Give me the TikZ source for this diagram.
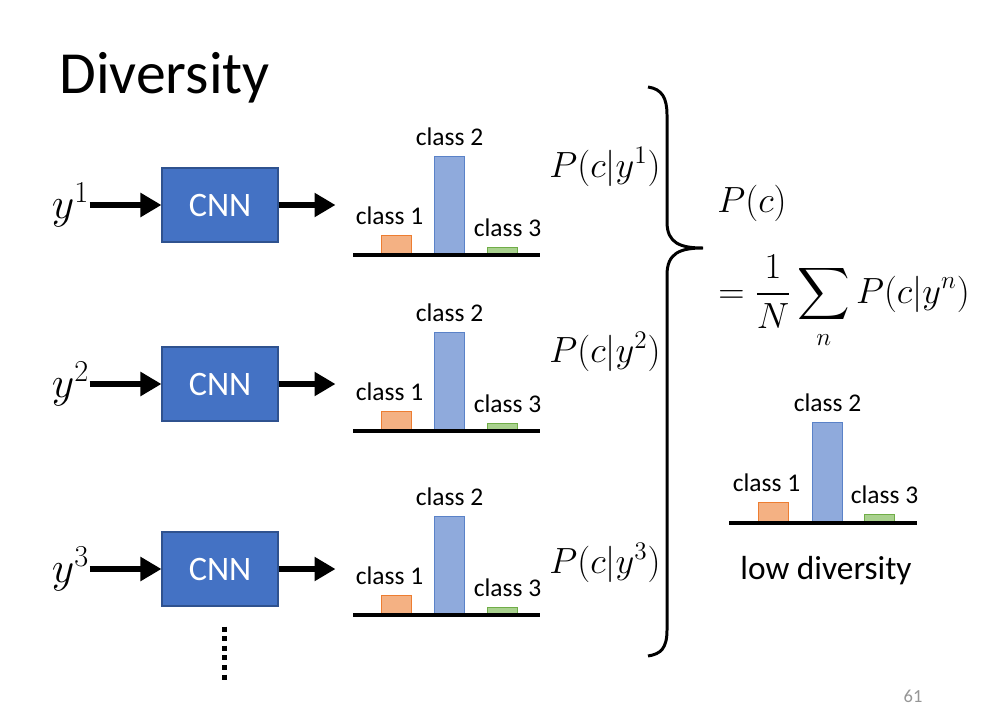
\documentclass[tikz,border=0pt]{standalone}
\usepackage{amsmath}
\usepackage{fontspec}
\setmainfont{Carlito}
\usetikzlibrary{arrows.meta, positioning, calc}
\definecolor{cnnblue}{RGB}{68, 114, 196}
\definecolor{cnnborder}{RGB}{47, 82, 143}
\definecolor{orangefill}{RGB}{244, 177, 131}
\definecolor{orangeedge}{RGB}{237, 125, 49}
\definecolor{bluefill}{RGB}{143, 170, 220}
\definecolor{blueedge}{RGB}{90, 130, 200}
\definecolor{greenfill}{RGB}{169, 209, 142}
\definecolor{greenedge}{RGB}{112, 173, 71}
\definecolor{pagegray}{RGB}{150, 150, 150}

\begin{document}
\begin{tikzpicture}[
    x=0.02cm, y=-0.02cm,
    cnn/.style={draw=cnnborder, fill=cnnblue, line width=0.6pt, minimum width=2.32cm, minimum height=1.48cm, text=white, font=\fontsize{19.5}{23}\selectfont},
    arrow/.style={-{Triangle[length=0.42cm, width=0.46cm]}, line width=3.2pt},
    axis/.style={line width=2.2pt},
    bar/.style={anchor=south west, inner sep=0pt, minimum width=0.6cm, line width=0.6pt},
    bar1/.style={bar, draw=orangeedge, fill=orangefill, minimum height=0.38cm},
    bar2/.style={bar, draw=blueedge, fill=bluefill, minimum height=1.96cm},
    bar3/.style={bar, draw=greenedge, fill=greenfill, minimum height=0.14cm},
    cls/.style={inner sep=0pt, font=\fontsize{14.5}{17}\selectfont},
    mathlabel/.style={inner sep=0pt, font=\fontsize{22}{26}\selectfont},
    inlabel/.style={inner sep=0pt, font=\fontsize{24}{28}\selectfont}
]
    \useasboundingbox (0,0) rectangle (982,716);
    \fill[white] (0,0) rectangle (982,716);

    % Title
    \node[anchor=base west, inner sep=0pt, font=\fontsize{34}{40}\selectfont] (title) at (59,94) {Diversity};

    % Row 1
    \node[cnn] (cnn1) at (220,205) {CNN};
    \node[inlabel, left=1.44cm of cnn1] (y1) {$y^1$};
    \coordinate[right=1.14cm of cnn1] (out1);
    \draw[arrow] (y1) -- (cnn1);
    \draw[arrow] (cnn1) -- (out1);
    \coordinate (base1) at (353,255);
    \node[bar1] (c11) at (381,255) {};
    \node[bar2] (c12) at (434,255) {};
    \node[bar3] (c13) at (487,255) {};
    \draw[axis] (base1) -- ++(187,0);
    \node[cls, above=0.2cm of c11, xshift=-0.14cm] {class 1};
    \node[cls, above=0.2cm of c12] {class 2};
    \node[cls, above=0.2cm of c13, xshift=0.1cm] {class 3};
    \node[mathlabel] (p1) at (605,167) {$P(c|y^1)$};

    % Row 2
    \node[cnn] (cnn2) at (220,384) {CNN};
    \node[inlabel, left=1.44cm of cnn2] (y2) {$y^2$};
    \coordinate[right=1.14cm of cnn2] (out2);
    \draw[arrow] (y2) -- (cnn2);
    \draw[arrow] (cnn2) -- (out2);
    \coordinate (base2) at (353,431);
    \node[bar1] (c21) at (381,431) {};
    \node[bar2] (c22) at (434,431) {};
    \node[bar3] (c23) at (487,431) {};
    \draw[axis] (base2) -- ++(187,0);
    \node[cls, above=0.2cm of c21, xshift=-0.14cm] {class 1};
    \node[cls, above=0.2cm of c22] {class 2};
    \node[cls, above=0.2cm of c23, xshift=0.1cm] {class 3};
    \node[mathlabel] (p2) at (605,352) {$P(c|y^2)$};

    % Row 3
    \node[cnn] (cnn3) at (220,569) {CNN};
    \node[inlabel, left=1.44cm of cnn3] (y3) {$y^3$};
    \coordinate[right=1.14cm of cnn3] (out3);
    \draw[arrow] (y3) -- (cnn3);
    \draw[arrow] (cnn3) -- (out3);
    \coordinate (base3) at (353,615);
    \node[bar1] (c31) at (381,615) {};
    \node[bar2] (c32) at (434,615) {};
    \node[bar3] (c33) at (487,615) {};
    \draw[axis] (base3) -- ++(187,0);
    \node[cls, above=0.2cm of c31, xshift=-0.14cm] {class 1};
    \node[cls, above=0.2cm of c32] {class 2};
    \node[cls, above=0.2cm of c33, xshift=0.1cm] {class 3};
    \node[mathlabel] (p3) at (605,563) {$P(c|y^3)$};

    % more inputs
    \draw[line width=0.1cm, dash pattern=on 0.1cm off 0.092cm] (224,626.5) -- (224,679.5);

    % Brace
    \draw[line width=1.7pt] (648,87) .. controls (662,89) and (667,98) .. (667,115) -- (667,222)
        .. controls (667,243) and (680,248) .. (703,248)
        .. controls (680,248) and (667,253) .. (667,275) -- (667,630)
        .. controls (667,648) and (661,654) .. (648,656);

    % Average
    \node[mathlabel] (pc) at (752,203) {$P(c)$};
    \node[mathlabel, anchor=west] (avg) at (718,302) {$\displaystyle =\frac{1}{N}\sum_{n} P(c|y^n)$};

    % Result chart
    \coordinate (base4) at (729,523);
    \node[bar1, minimum height=0.4cm] (c41) at (758,523) {};
    \node[bar2, minimum height=2cm] (c42) at (812,523) {};
    \node[bar3, minimum height=0.16cm] (c43) at (864,523) {};
    \draw[axis] (base4) -- ++(188,0);
    \node[cls, above=0.2cm of c41, xshift=-0.14cm] {class 1};
    \node[cls, above=0.2cm of c42] {class 2};
    \node[cls, above=0.2cm of c43, xshift=0.1cm] {class 3};
    \node[inner sep=0pt, font=\fontsize{19}{23}\selectfont] (low) at (826,571) {low diversity};

    % Page number
    \node[inner sep=0pt, text=pagegray, font=\fontsize{10.5}{12}\selectfont] (page) at (913,696) {61};
\end{tikzpicture}
\end{document}
